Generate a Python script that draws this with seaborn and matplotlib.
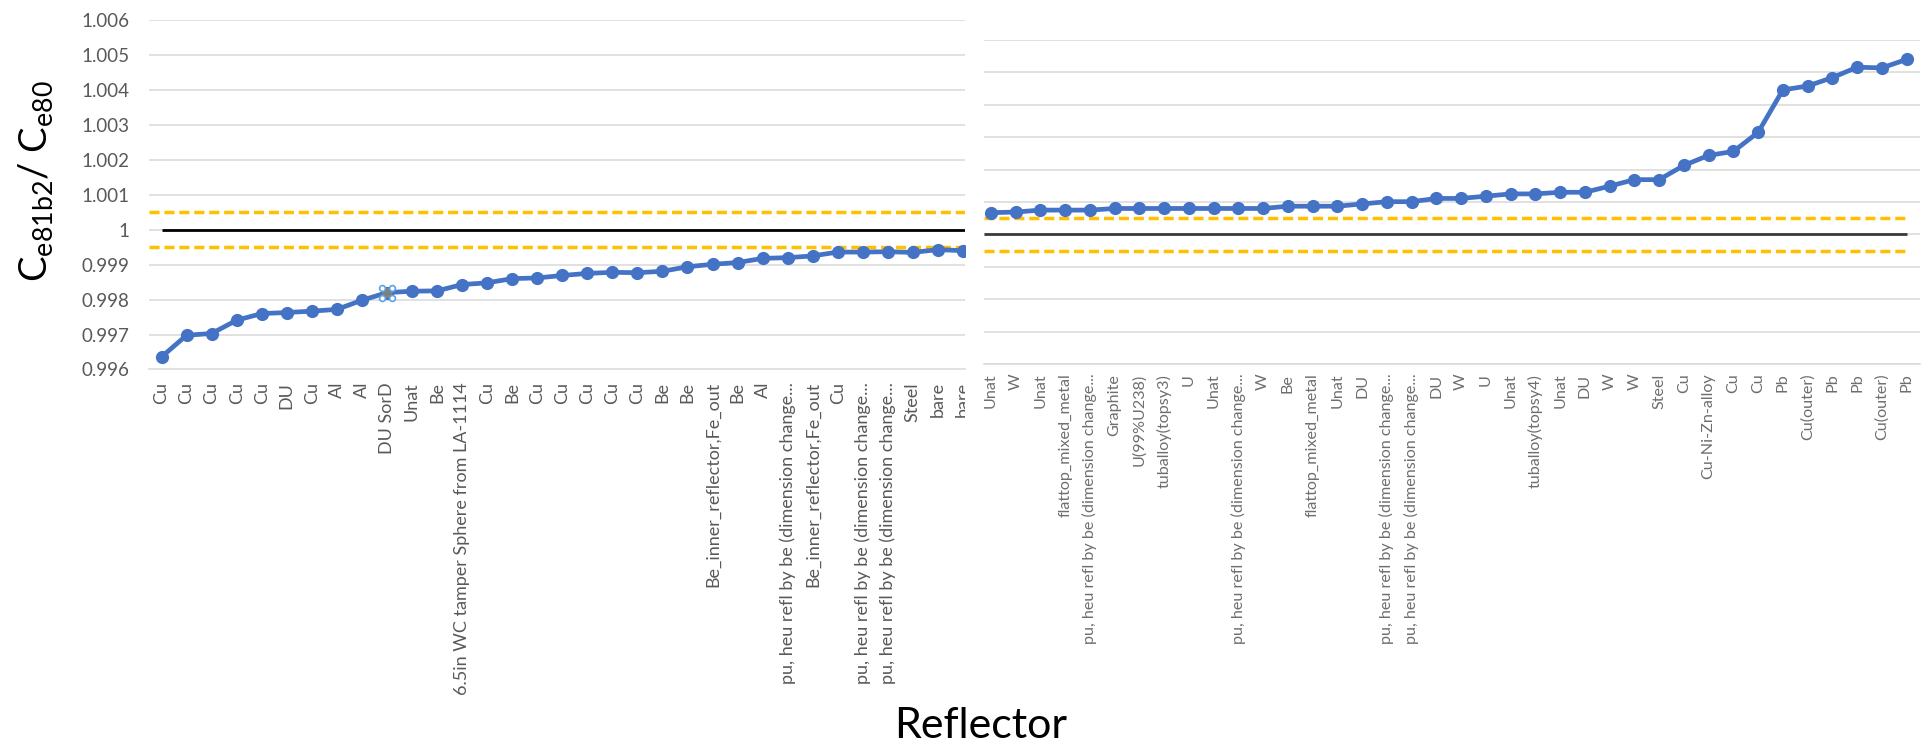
import numpy as np
import pandas as pd
import matplotlib
matplotlib.use("Agg")
import matplotlib.pyplot as plt
import matplotlib.transforms as mtransforms
import seaborn as sns

# ---- data -------------------------------------------------------------
PU_HEU = "pu, heu refl by be (dimension change..."

left_labels = [
    "Cu", "Cu", "Cu", "Cu", "Cu", "DU", "Cu", "Al", "Al", "DU SorD", "Unat", "Be",
    "6.5in WC tamper Sphere from LA-1114", "Cu", "Be", "Cu", "Cu", "Cu", "Cu", "Cu",
    "Be", "Be", "Be_inner_reflector,Fe_out", "Be", "Al", PU_HEU,
    "Be_inner_reflector,Fe_out", "Cu", PU_HEU, PU_HEU, "Steel", "bare", "bare",
]
left_ratio = [
    0.99636, 0.99698, 0.99703, 0.99741, 0.99760, 0.99763, 0.99767, 0.99772,
    0.99798, 0.99820, 0.99824, 0.99825, 0.99843, 0.99848, 0.99860, 0.99862,
    0.99869, 0.99875, 0.99878, 0.99877, 0.99881, 0.99894, 0.99901, 0.99906,
    0.99918, 0.99920, 0.99925, 0.99936, 0.99936, 0.99937, 0.99935, 0.99943,
    0.99940,
]

right_labels = [
    "Unat", "W", "Unat", "flattop_mixed_metal", PU_HEU, "Graphite", "U(99%U238)",
    "tuballoy(topsy3)", "U", "Unat", PU_HEU, "W", "Be", "flattop_mixed_metal",
    "Unat", "DU", PU_HEU, PU_HEU, "DU", "W", "U", "Unat", "tuballoy(topsy4)",
    "Unat", "DU", "W", "W", "Steel", "Cu", "Cu-Ni-Zn-alloy", "Cu", "Cu", "Pb",
    "Cu(outer)", "Pb", "Pb", "Cu(outer)", "Pb",
]
right_ratio = [
    1.00067, 1.00069, 1.00075, 1.00075, 1.00075, 1.00080, 1.00080, 1.00080,
    1.00080, 1.00080, 1.00080, 1.00080, 1.00087, 1.00087, 1.00087, 1.00094,
    1.00101, 1.00101, 1.00111, 1.00111, 1.00118, 1.00125, 1.00125, 1.00130,
    1.00130, 1.00149, 1.00169, 1.00169, 1.00213, 1.00244, 1.00256, 1.00315,
    1.00446, 1.00458, 1.00484, 1.00516, 1.00514, 1.00540,
]

reference = 1.0
tolerance = 0.0005
y_ticks = [0.996, 0.997, 0.998, 0.999, 1.0, 1.001, 1.002, 1.003, 1.004, 1.005, 1.006]
y_tick_text = ["0.996", "0.997", "0.998", "0.999", "1", "1.001", "1.002",
               "1.003", "1.004", "1.005", "1.006"]
highlight_label = "DU SorD"

# ---- style ------------------------------------------------------------
sns.set_theme(style="white")
plt.rcParams["font.family"] = ["Lato", "DejaVu Sans"]
plt.rcParams["mathtext.default"] = "regular"

BLUE = "#4472C4"
GOLD = "#FFC000"
GRID = "#D9D9D9"
TICK = "#595959"
DASH = (0, (2.9, 1.4))

W, H = 1923, 748
fig = plt.figure(figsize=(W / 100, H / 100), dpi=100)
fig.patch.set_facecolor("white")

axL = fig.add_axes([149 / W, 1 - 369.5 / H, (965 - 149) / W, (369.5 - 20) / H])
axR = fig.add_axes([984 / W, 1 - 364 / H, (1920 - 984) / W, (364 - 40) / H])

df_left = pd.DataFrame({"pos": np.arange(len(left_ratio)), "ratio": left_ratio})
df_right = pd.DataFrame({"pos": np.arange(len(right_ratio)), "ratio": right_ratio})


def style_axes(ax, labels, xlim, label_size, label_color, pad):
    ax.set_ylim(y_ticks[0], y_ticks[-1])
    ax.set_xlim(*xlim)
    ax.set_yticks(y_ticks)
    ax.yaxis.grid(True, color=GRID, linewidth=1.1)
    ax.xaxis.grid(False)
    ax.set_axisbelow(True)
    for side in ("top", "right", "left"):
        ax.spines[side].set_visible(False)
    ax.spines["bottom"].set_color(GRID)
    ax.spines["bottom"].set_linewidth(1.1)
    ax.set_xticks(np.arange(len(labels)))
    ax.set_xticklabels(labels, rotation=90, fontsize=label_size, color=label_color)
    ax.tick_params(axis="x", length=0, pad=pad)


# left chart
style_axes(axL, left_labels, (-0.5, len(left_ratio) - 0.92), 13, TICK, 9)
axL.set_yticklabels(y_tick_text, fontsize=13.5, color=TICK)
axL.tick_params(axis="y", length=0, pad=14)
axL.axhline(reference + tolerance, color=GOLD, lw=2.5, ls=DASH, zorder=2)
axL.axhline(reference - tolerance, color=GOLD, lw=2.5, ls=DASH, zorder=2)
axL.hlines(reference, 0, len(left_ratio), color="black", lw=2.0, zorder=2)
sns.lineplot(data=df_left, x="pos", y="ratio", ax=axL, color=BLUE, lw=3.4,
             marker="o", markersize=9.5, markeredgewidth=0, zorder=3)

# the left panel is cut off at its right edge, labels included
cut = mtransforms.TransformedBbox(mtransforms.Bbox([[0, 0], [965 / W, 1]]),
                                  fig.transFigure)
for lab in axL.get_xticklabels():
    lab.set_clip_box(cut)
    lab.set_clip_on(True)

# selected point handles
hi = left_labels.index(highlight_label)
axL.plot(hi, left_ratio[hi], marker="s", ms=7, color="#7F7F7F", mew=0, zorder=4)
for dx, dy in [(-5, -5), (-5, 5), (5, -5), (5, 5)]:
    tr = mtransforms.offset_copy(axL.transData, fig=fig, x=dx, y=dy, units="dots")
    axL.plot(hi, left_ratio[hi], marker="o", ms=4.2, mfc="white", mec="#5BA3E0",
             mew=1.2, transform=tr, zorder=5)
axL.set_xlabel("")
axL.set_ylabel("")

# right chart
style_axes(axR, right_labels, (-0.28, len(right_ratio) - 0.46), 11.6, "#6E6E6E", 7)
axR.set_yticklabels([])
axR.tick_params(axis="y", length=0)
x0 = axR.get_xlim()[0]
last = len(right_ratio) - 1
axR.hlines(reference + tolerance, x0, last, color=GOLD, lw=2.5, ls=DASH, zorder=2)
axR.hlines(reference - tolerance, x0, last, color=GOLD, lw=2.5, ls=DASH, zorder=2)
axR.hlines(reference, x0, last, color="#3A3A3A", lw=2.0, zorder=2)
sns.lineplot(data=df_right, x="pos", y="ratio", ax=axR, color=BLUE, lw=3.4,
             marker="o", markersize=9.5, markeredgewidth=0, zorder=3)
axR.set_xlabel("")
axR.set_ylabel("")

# shared titles
fig.text(36 / W, 1 - 181 / H, r"$C_{e81b2}$/ $C_{e80}$", rotation=90,
         ha="center", va="center", fontsize=27.5, color="black")
fig.text(981 / W, 1 - 726 / H, "Reflector", ha="center", va="center",
         fontsize=31, color="black")

fig.savefig("out.png", dpi=100, facecolor="white")
